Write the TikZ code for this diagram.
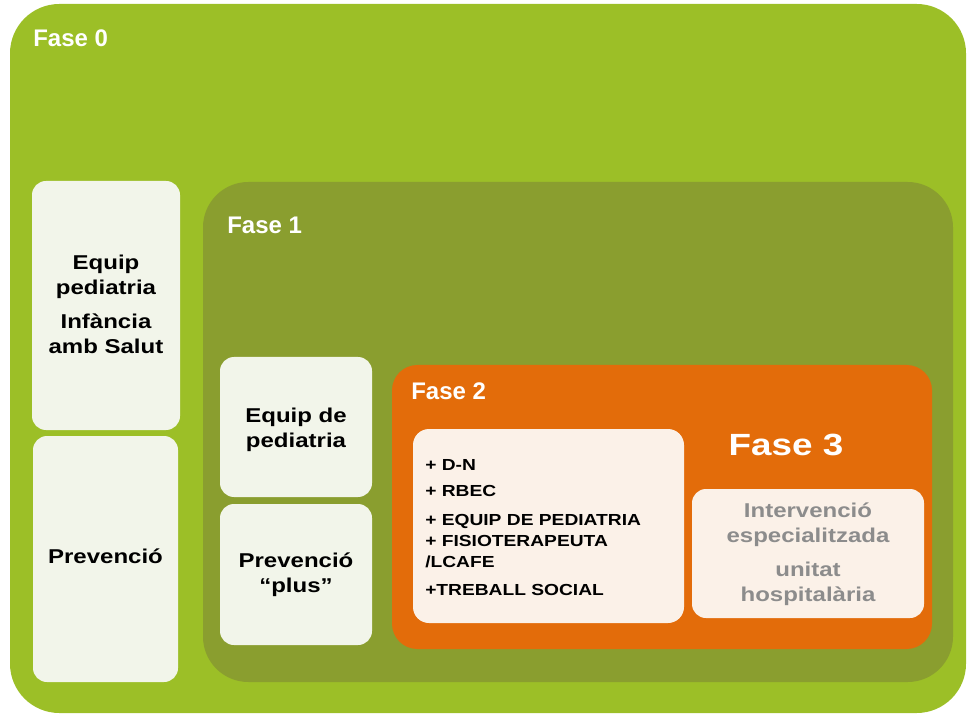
\documentclass[tikz,border=0pt]{standalone}
\usepackage{fontspec}
\setmainfont{Liberation Sans}
\newfontfamily\widesans[FakeStretch=1.2]{Liberation Sans}
\begin{document}
\begin{tikzpicture}[x=0.75pt,y=-0.75pt,
  fase/.style={anchor=base west,inner sep=0pt,text=white,font=\fontsize{18}{21}\selectfont\bfseries},
  boxtext/.style={anchor=north,inner sep=0pt,align=center,font=\widesans\bfseries\fontsize{15}{18.75}\selectfont},
  listtext/.style={anchor=north west,inner sep=0pt,align=left,font=\widesans\bfseries\fontsize{12}{15.75}\selectfont}]
\definecolor{fasezero}{HTML}{9CBF27}
\definecolor{faseone}{HTML}{8A9E2F}
\definecolor{fasetwo}{HTML}{E36C0A}
\definecolor{boxgreen}{HTML}{F2F5EA}
\definecolor{boxorange}{HTML}{FBF1E8}
\definecolor{txtgray}{HTML}{8C8C8C}
\useasboundingbox (0,0) rectangle (967,716);
\fill [fasezero,rounded corners=37pt] (10,4) rectangle (966,713);
\fill [boxgreen,rounded corners=10.5pt] (32,181) rectangle (180,430);
\fill [boxgreen,rounded corners=10.5pt] (33,436) rectangle (178,682);
\fill [faseone,rounded corners=34pt] (203,182) rectangle (953,682);
\fill [boxgreen,rounded corners=10.5pt] (220,357) rectangle (372,497);
\fill [boxgreen,rounded corners=10.5pt] (220,504) rectangle (372,645);
\fill [fasetwo,rounded corners=19pt] (392,365) rectangle (932,649);
\fill [boxorange,rounded corners=12pt] (413,429) rectangle (684,623);
\fill [boxorange,rounded corners=10.5pt] (692,489) rectangle (924,618);
\node[fase] (f0) at (33,47) {Fase 0};
\node[fase] (f1) at (227,234) {Fase 1};
\node[fase] (f2) at (411,400) {Fase 2};
\node[anchor=base,inner sep=0pt,text=white,font=\widesans\bfseries\fontsize{23}{27}\selectfont] (f3) at (786,455) {Fase 3};
\node[boxtext] (eqinf) at (106,255) {Equip\\pediatria\\[6.75pt]Infància\\amb Salut};
\node[boxtext] (prev) at (105.5,549) {Prevenció};
\node[boxtext] (eqped) at (296,408) {Equip de\\pediatria};
\node[boxtext] (prevplus) at (296,553) {Prevenció\\“plus”};
\node[listtext] (llista) at (425,459) {+ D-N\\[3.75pt]+ RBEC\\[6pt]+ EQUIP DE PEDIATRIA\\+ FISIOTERAPEUTA\\/LCAFE\\[5.25pt]+TREBALL SOCIAL};
\node[boxtext,text=txtgray] (interv) at (808,503) {Intervenció\\especialitzada\\[6.75pt]unitat\\hospitalària};
\end{tikzpicture}
\end{document}
